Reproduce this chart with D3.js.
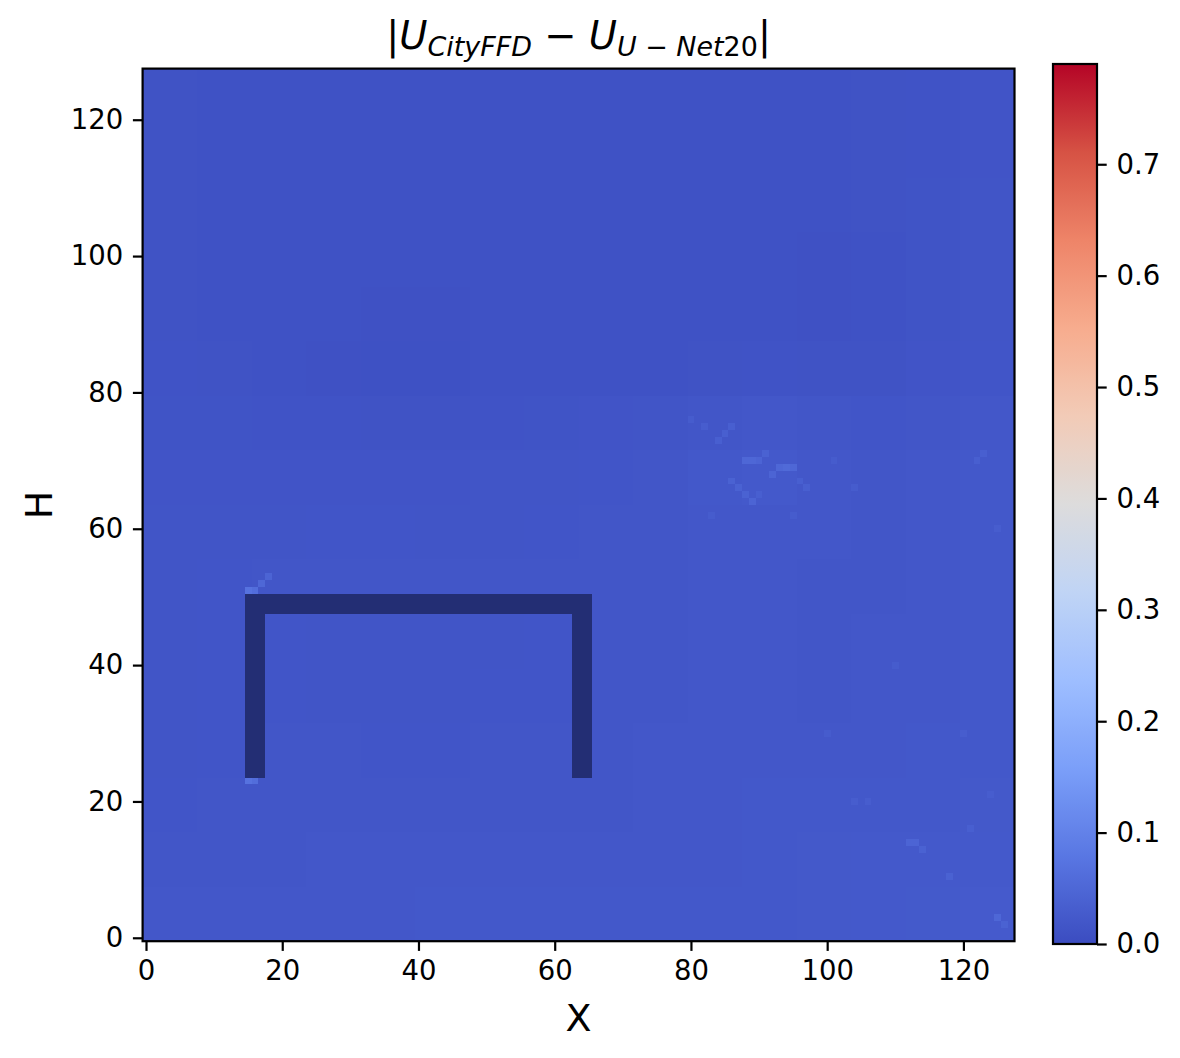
<!DOCTYPE html>
<html><head><meta charset="utf-8">
<script src="https://cdn.jsdelivr.net/npm/d3@7"></script>
<style>
html,body{margin:0;padding:0;background:#fff;}
svg text{font-family:"DejaVu Sans",sans-serif;fill:#000;}
</style></head>
<body>
<svg id="chart" width="1180" height="1058"></svg>
<script>
// ---------------- data ----------------
const gridSize = 128;           // field is 128 x 128 cells
const blockSize = 8;            // coarse blocks (16 x 16)
// coarse |U_CityFFD - U_U-Net20| values, rows from top (y=120..127) to bottom (y=0..7)
const blockValues = [
 [0.012,0.011,0.011,0.011,0.011,0.011,0.011,0.011,0.011,0.011,0.011,0.011,0.011,0.012,0.013,0.015],
 [0.012,0.011,0.011,0.011,0.011,0.011,0.011,0.011,0.011,0.011,0.011,0.011,0.011,0.012,0.013,0.015],
 [0.012,0.011,0.011,0.011,0.011,0.011,0.011,0.011,0.011,0.011,0.011,0.011,0.011,0.012,0.014,0.016],
 [0.012,0.011,0.011,0.011,0.011,0.011,0.011,0.011,0.011,0.011,0.011,0.011,0.010,0.011,0.014,0.016],
 [0.012,0.011,0.011,0.011,0.010,0.010,0.011,0.011,0.011,0.011,0.011,0.011,0.010,0.011,0.014,0.016],
 [0.013,0.012,0.011,0.010,0.009,0.009,0.011,0.011,0.011,0.011,0.012,0.013,0.012,0.012,0.015,0.017],
 [0.014,0.014,0.013,0.013,0.012,0.012,0.013,0.014,0.015,0.016,0.019,0.020,0.018,0.017,0.018,0.020],
 [0.015,0.015,0.015,0.015,0.015,0.015,0.016,0.016,0.017,0.018,0.022,0.024,0.020,0.019,0.020,0.022],
 [0.016,0.016,0.016,0.017,0.017,0.016,0.016,0.017,0.018,0.019,0.020,0.021,0.020,0.019,0.021,0.022],
 [0.016,0.017,0.018,0.018,0.018,0.018,0.018,0.018,0.019,0.019,0.020,0.020,0.019,0.019,0.020,0.022],
 [0.016,0.017,0.017,0.016,0.016,0.016,0.016,0.017,0.018,0.019,0.020,0.020,0.019,0.020,0.021,0.022],
 [0.016,0.017,0.017,0.016,0.016,0.016,0.017,0.017,0.018,0.019,0.020,0.020,0.019,0.020,0.021,0.022],
 [0.016,0.017,0.018,0.018,0.017,0.017,0.018,0.018,0.019,0.020,0.021,0.021,0.020,0.021,0.022,0.022],
 [0.017,0.018,0.019,0.019,0.019,0.018,0.018,0.019,0.019,0.020,0.021,0.022,0.022,0.022,0.022,0.023],
 [0.018,0.019,0.019,0.020,0.020,0.020,0.020,0.020,0.020,0.021,0.021,0.022,0.023,0.024,0.024,0.024],
 [0.020,0.021,0.021,0.021,0.021,0.022,0.022,0.022,0.022,0.022,0.022,0.022,0.023,0.024,0.025,0.026]
];
// individual brighter cells (streaks): [x, y, value]
const hotCells = [
 [15,51,0.07],[16,51,0.06],[17,52,0.05],[18,53,0.045],[15,23,0.07],[16,23,0.06],
 [86,67,0.04],[87,66,0.04],[88,65,0.04],[89,64,0.045],[90,65,0.035],
 [88,70,0.05],[89,70,0.05],[90,70,0.045],[91,71,0.04],[92,68,0.045],
 [93,69,0.05],[94,69,0.055],[95,69,0.05],[96,67,0.035],[97,66,0.035],
 [84,73,0.035],[85,74,0.035],[86,75,0.035],[82,75,0.032],[80,76,0.03],
 [83,62,0.03],[95,62,0.03],[101,70,0.03],[104,66,0.03],[122,70,0.035],[123,71,0.035],[125,60,0.032],
 [112,14,0.045],[113,14,0.045],[114,13,0.04],[118,9,0.04],[125,3,0.05],[126,2,0.04],[121,16,0.035],
 [104,20,0.032],[106,20,0.032],[100,30,0.03],[110,40,0.03],[120,30,0.032],[124,21,0.032]
];
// building cells (masked region), inclusive cell ranges, non-overlapping
const buildingParts = [
 {x0:15, x1:65, y0:48, y1:50},
 {x0:15, x1:17, y0:24, y1:47},
 {x0:63, x1:65, y0:24, y1:47}
];
const xTicks = [0,20,40,60,80,100,120];
const yTicks = [0,20,40,60,80,100,120];
const cbarTicks = [0.0,0.1,0.2,0.3,0.4,0.5,0.6,0.7];
const vmin = 0, vmax = 0.79;
const coolwarmStops = ["#3b4cc0","#5977e3","#7b9ff9","#9ebeff","#c0d4f5","#dddcdc","#f2cbb7","#f7ac8e","#ee8468","#d65244","#b40426"];

// ---------------- drawing ----------------
const svg = d3.select("#chart");
const plot = {left:142.6, right:1014.5, top:68.6, bottom:941.2};
const x = d3.scaleLinear().domain([-0.5, gridSize-0.5]).range([plot.left, plot.right]);
const y = d3.scaleLinear().domain([-0.5, gridSize-0.5]).range([plot.bottom, plot.top]);
const cw = d3.scaleLinear().domain(d3.range(coolwarmStops.length).map(i=>i/(coolwarmStops.length-1))).range(coolwarmStops).interpolate(d3.interpolateRgb);
const color = v => cw(Math.max(0, Math.min(1, (v - vmin)/(vmax - vmin))));

const nb = blockValues.length;
const blocks = [];
blockValues.forEach((row, r) => row.forEach((v, c) => blocks.push({c, r: nb-1-r, v})));

const g = svg.append("g");
g.selectAll("rect.blk").data(blocks).join("rect").attr("class","blk")
  .attr("x", d => x(d.c*blockSize - 0.5))
  .attr("y", d => y((d.r+1)*blockSize - 0.5))
  .attr("width", d => x((d.c+1)*blockSize - 0.5) - x(d.c*blockSize - 0.5))
  .attr("height", d => y(d.r*blockSize - 0.5) - y((d.r+1)*blockSize - 0.5))
  .attr("fill", d => color(d.v)).attr("shape-rendering","crispEdges");

g.selectAll("rect.hot").data(hotCells).join("rect").attr("class","hot")
  .attr("x", d => x(d[0]-0.5)).attr("y", d => y(d[1]+0.5))
  .attr("width", d => x(d[0]+0.5)-x(d[0]-0.5)).attr("height", d => y(d[1]-0.5)-y(d[1]+0.5))
  .attr("fill", d => color(d[2])).attr("shape-rendering","crispEdges");

g.selectAll("rect.bld").data(buildingParts).join("rect").attr("class","bld")
  .attr("x", d => x(d.x0-0.5)).attr("y", d => y(d.y1+0.5))
  .attr("width", d => x(d.x1+0.5)-x(d.x0-0.5)).attr("height", d => y(d.y0-0.5)-y(d.y1+0.5))
  .attr("fill", "#232e74").attr("shape-rendering","crispEdges");

// frame
svg.append("rect").attr("x", plot.left).attr("y", plot.top)
  .attr("width", plot.right-plot.left).attr("height", plot.bottom-plot.top)
  .attr("fill","none").attr("stroke","#000").attr("stroke-width",2.2);

const tickLen = 9.7, tickPad = 9.7, tickFont = 27.5;
const xAxis = svg.append("g").attr("transform", `translate(0,${plot.bottom})`)
  .call(d3.axisBottom(x).tickValues(xTicks).tickSize(tickLen).tickPadding(tickPad).tickFormat(d3.format("d")));
const yAxis = svg.append("g").attr("transform", `translate(${plot.left},0)`)
  .call(d3.axisLeft(y).tickValues(yTicks).tickSize(tickLen).tickPadding(tickPad).tickFormat(d3.format("d")));
[xAxis, yAxis].forEach(a => {
  a.select(".domain").remove();
  a.selectAll(".tick line").attr("stroke","#000").attr("stroke-width",2.2);
  a.selectAll(".tick text").attr("font-size", tickFont).attr("font-family","DejaVu Sans").attr("fill","#000");
});

// axis labels
svg.append("text").attr("x", (plot.left+plot.right)/2).attr("y", 1031)
  .attr("text-anchor","middle").attr("font-size", 38).text("X");
svg.append("text").attr("transform", `translate(52,${(plot.top+plot.bottom)/2}) rotate(-90)`)
  .attr("text-anchor","middle").attr("font-size", 38).text("H");

// title with math-like subscripts
const tfs = 38.5, sfs = tfs*0.7;
const title = svg.append("text").attr("x", (plot.left+plot.right)/2).attr("y", 49)
  .attr("text-anchor","middle").attr("font-size", tfs);
title.append("tspan").text("|");
title.append("tspan").attr("font-style","italic").text("U");
title.append("tspan").attr("font-style","italic").attr("font-size", sfs).attr("dy", 7).text("CityFFD");
title.append("tspan").attr("dy", -7).text(" \u2212 ");
title.append("tspan").attr("font-style","italic").text("U");
const sub2 = title.append("tspan").attr("font-size", sfs).attr("dy", 7);
sub2.append("tspan").attr("font-style","italic").text("U");
sub2.append("tspan").text(" \u2212 ");
sub2.append("tspan").attr("font-style","italic").text("Net");
sub2.append("tspan").text("20");
title.append("tspan").attr("dy", -7).text("|");

// colorbar
const cb = {left:1053, right:1097, top:64, bottom:944};
const cbScale = d3.scaleLinear().domain([vmin, vmax]).range([cb.bottom, cb.top]);
const defs = svg.append("defs");
const grad = defs.append("linearGradient").attr("id","cbgrad").attr("x1",0).attr("y1",1).attr("x2",0).attr("y2",0);
d3.range(0, 1.0001, 0.02).forEach(t => grad.append("stop").attr("offset", t).attr("stop-color", color(vmin + t*(vmax-vmin))));
svg.append("rect").attr("x", cb.left).attr("y", cb.top).attr("width", cb.right-cb.left).attr("height", cb.bottom-cb.top)
  .attr("fill","url(#cbgrad)");
svg.append("rect").attr("x", cb.left).attr("y", cb.top).attr("width", cb.right-cb.left).attr("height", cb.bottom-cb.top)
  .attr("fill","none").attr("stroke","#000").attr("stroke-width",2.2);
const cAxis = svg.append("g").attr("transform", `translate(${cb.right},0)`)
  .call(d3.axisRight(cbScale).tickValues(cbarTicks).tickSize(tickLen).tickPadding(tickPad).tickFormat(d3.format(".1f")));
cAxis.select(".domain").remove();
cAxis.selectAll(".tick line").attr("stroke","#000").attr("stroke-width",2.2);
cAxis.selectAll(".tick text").attr("font-size", tickFont).attr("font-family","DejaVu Sans").attr("fill","#000");
</script>
</body></html>
